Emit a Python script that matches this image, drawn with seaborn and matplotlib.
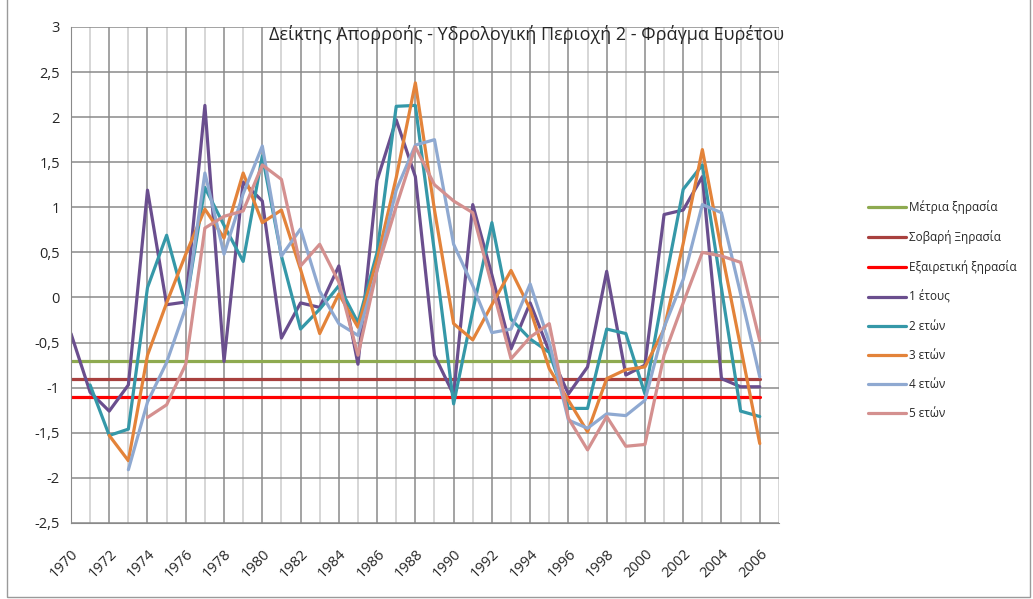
import numpy as np
import pandas as pd
import matplotlib.pyplot as plt
import seaborn as sns
from matplotlib.patches import Rectangle

nan = np.nan
years = list(range(1970, 2007))

# Δείκτες απορροής ανά διάρκεια (τιμές διαβασμένες από το γράφημα)
y1 = [-0.40, -1.05, -1.26, -0.97, 1.19, -0.08, -0.05, 2.13, -0.71, 1.28,
      1.07, -0.45, -0.06, -0.11, 0.35, -0.74, 1.30, 1.97, 1.34, -0.64,
      -1.08, 1.03, 0.25, -0.57, -0.06, -0.60, -1.07, -0.77, 0.29, -0.86,
      -0.75, 0.92, 0.97, 1.34, -0.90, -0.99, -0.99]
y2 = [nan, -0.97, -1.53, -1.46, 0.11, 0.69, -0.09, 1.22, 0.80, 0.40,
      1.57, 0.46, -0.35, -0.13, 0.13, -0.28, 0.50, 2.12, 2.13, 0.50,
      -1.18, -0.15, 0.83, -0.24, -0.46, -0.61, -1.23, -1.23, -0.35, -0.40,
      -1.07, 0.10, 1.20, 1.47, 0.10, -1.26, -1.32]
y3 = [nan, nan, -1.53, -1.81, -0.64, -0.06, 0.48, 0.98, 0.66, 1.38,
      0.83, 0.97, 0.31, -0.40, 0.04, -0.33, 0.42, 1.33, 2.38, 0.97,
      -0.29, -0.47, -0.08, 0.30, -0.13, -0.79, -1.14, -1.49, -0.90, -0.80,
      -0.77, -0.35, 0.60, 1.64, 0.52, -0.55, -1.62]
y4 = [nan, nan, nan, -1.91, -1.16, -0.72, -0.11, 1.38, 0.48, 1.15,
      1.68, 0.46, 0.76, 0.07, -0.29, -0.42, 0.30, 1.19, 1.69, 1.75,
      0.59, 0.13, -0.39, -0.35, 0.15, -0.50, -1.36, -1.45, -1.29, -1.31,
      -1.14, -0.33, 0.20, 1.03, 0.94, 0.04, -0.88]
y5 = [nan, nan, nan, nan, -1.33, -1.19, -0.74, 0.77, 0.90, 0.96,
      1.47, 1.31, 0.35, 0.59, 0.17, -0.64, 0.31, 1.01, 1.67, 1.25,
      1.07, 0.94, 0.13, -0.68, -0.44, -0.29, -1.34, -1.69, -1.32, -1.65,
      -1.63, -0.64, -0.06, 0.50, 0.46, 0.39, -0.48]

# Όρια ξηρασίας: (όνομα, τιμή, τελευταίο έτος)
thresholds = [('Μέτρια ξηρασία', -0.7, 2005),
              ('Σοβαρή Ξηρασία', -0.9, 2006),
              ('Εξαιρετική ξηρασία', -1.1, 2006)]
series = [('1 έτους', y1), ('2 ετών', y2), ('3 ετών', y3),
          ('4 ετών', y4), ('5 ετών', y5)]

colors = {'Μέτρια ξηρασία': '#8EAA50', 'Σοβαρή Ξηρασία': '#A8403E',
          'Εξαιρετική ξηρασία': '#FF0000', '1 έτους': '#6A4E8E',
          '2 ετών': '#3598A8', '3 ετών': '#E3833A', '4 ετών': '#8FA9D1',
          '5 ετών': '#D4908F'}

rows = []
for name, val, last in thresholds:
    rows.append((name, 1970, val))
    rows.append((name, last, val))
for name, vals in series:
    for yr, v in zip(years, vals):
        if not np.isnan(v):
            rows.append((name, yr, v))
df = pd.DataFrame(rows, columns=['series', 'year', 'value'])
order = [t[0] for t in thresholds] + [s[0] for s in series]

sns.set_style('white')
plt.rcParams['font.family'] = ['Open Sans', 'DejaVu Sans']

fig = plt.figure(figsize=(10.33, 5.99), dpi=100)
ax = fig.add_axes([0.0687, 0.127, 0.6853, 0.828])

sns.lineplot(data=df, x='year', y='value', hue='series', hue_order=order,
             palette=colors, estimator=None, linewidth=2.3, ax=ax)

ax.set_xlim(1970, 2007)
ax.set_ylim(-2.5, 3)
ax.set_xticks(range(1970, 2007, 2))
ax.set_xticks(range(1971, 2008, 2), minor=True)
ax.set_xticklabels([str(y) for y in range(1970, 2007, 2)], rotation=45,
                   ha='right', rotation_mode='anchor', fontsize=10.5)
yt = np.arange(-2.5, 3.01, 0.5)
ax.set_yticks(yt)
ax.set_yticklabels([('%g' % v).replace('.', ',') for v in yt], fontsize=10.5)
ax.set_xlabel('')
ax.set_ylabel('')
ax.set_axisbelow(True)
ax.grid(which='major', axis='both', color='#8A8A8A', lw=1.1)
ax.grid(which='minor', axis='x', color='#CBCBCB', lw=1.1)
ax.tick_params(axis='both', which='major', direction='out', length=5,
               color='#8A8A8A', width=1, pad=3)
ax.tick_params(axis='x', which='major', pad=12)
ax.tick_params(axis='x', which='minor', length=0)
for s in ['top', 'right']:
    ax.spines[s].set_visible(False)
for s in ['left', 'bottom']:
    ax.spines[s].set_color('#8A8A8A')

ax.get_legend().remove()
handles, labels = ax.get_legend_handles_labels()
fig.legend(handles, labels, loc='upper left', bbox_to_anchor=(0.83, 0.683),
           frameon=False, fontsize=8.5, handlelength=3.2, handletextpad=0.3,
           labelspacing=1.37)

fig.text(0.51, 1 - 35 / 599, 'Δείκτης Απορροής - Υδρολογική Περιοχή 2 - Φράγμα Ευρέτου',
         ha='center', va='center', fontsize=13)

fig.patches.append(Rectangle((0.007, 0.003), 0.99, 1.2, transform=fig.transFigure,
                             fill=False, edgecolor='#9A9A9A', lw=1))

fig.savefig('out.png', dpi=100)
